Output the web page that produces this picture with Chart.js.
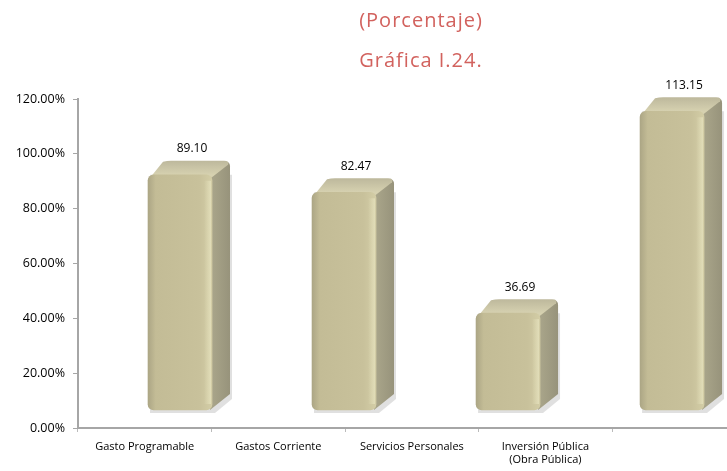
<!DOCTYPE html>
<html>
<head>
<meta charset="utf-8">
<script src="https://cdn.jsdelivr.net/npm/chart.js@4.4.1/dist/chart.umd.min.js"></script>
<style>
  html, body { margin: 0; padding: 0; background: #fff; }
  #wrap { width: 727px; height: 471px; position: relative; }
</style>
</head>
<body>
<div id="wrap"><canvas id="chart"></canvas></div>
<script>
// Data
const categories = ['Gasto Programable', 'Gastos Corriente', 'Servicios Personales', ['Inversión Pública', '(Obra Pública)']];
const values = [89.10, 82.47, 36.69, 113.15];
const yTicks = [0, 20, 40, 60, 80, 100, 120];
const titleLines = ['(Porcentaje)', 'Gráfica I.24.'];

// 3D depth of the bars
const DX = 18, DY = 14, BAR_W = 64;
const FONT = '"Open Sans", sans-serif';

// title drawn over the plot, shifted right like the original
const titlePlugin = {
  id: 'titleLines',
  afterDraw(chart) {
    const ctx = chart.ctx;
    ctx.save();
    ctx.fillStyle = '#d2625e';
    ctx.font = '20px ' + FONT;
    ctx.letterSpacing = '1px';
    ctx.textAlign = 'center';
    ctx.textBaseline = 'middle';
    ctx.fillText(titleLines[0], 421, 21);
    ctx.fillText(titleLines[1], 421, 61);
    ctx.restore();
  }
};

// side + top faces behind the front face, and value labels
const depthPlugin = {
  id: 'depth',
  beforeDatasetsDraw(chart) {
    const ctx = chart.ctx;
    const meta = chart.getDatasetMeta(0);
    ctx.save();
    meta.data.forEach(bar => {
      const p = bar.getProps(['x', 'y', 'base', 'width']);
      const l = p.x - p.width / 2, r = p.x + p.width / 2, t = p.y, b = p.base;
      // shadow
      ctx.fillStyle = 'rgba(0,0,0,0.12)';
      ctx.beginPath();
      ctx.moveTo(l + 2, b + 3);
      ctx.lineTo(r + 3, b + 3);
      ctx.lineTo(r + DX + 2, b - DY + 3);
      ctx.lineTo(r + DX + 2, t);
      ctx.lineTo(l + 2, t);
      ctx.closePath();
      ctx.fill();
      // side face
      const gs = ctx.createLinearGradient(r, 0, r + DX, 0);
      gs.addColorStop(0, '#a9a58a');
      gs.addColorStop(1, '#97937b');
      ctx.fillStyle = gs;
      ctx.beginPath();
      ctx.moveTo(r - 4, t + 4);
      ctx.lineTo(r + DX - 5, t - DY + 2);
      ctx.quadraticCurveTo(r + DX, t - DY, r + DX, t - DY + 6);
      ctx.lineTo(r + DX, b - DY - 2);
      ctx.lineTo(r - 2, b);
      ctx.closePath();
      ctx.fill();
      // top face
      const gt = ctx.createLinearGradient(0, t - DY, 0, t);
      gt.addColorStop(0, '#bdb89c');
      gt.addColorStop(1, '#d6d1b0');
      ctx.fillStyle = gt;
      ctx.beginPath();
      ctx.moveTo(l + 2, t + 3);
      ctx.lineTo(l + DX - 3, t - DY + 1);
      ctx.quadraticCurveTo(l + DX + 1, t - DY, l + DX + 5, t - DY);
      ctx.lineTo(r + DX - 6, t - DY);
      ctx.quadraticCurveTo(r + DX, t - DY, r + DX - 2, t - DY + 4);
      ctx.lineTo(r - 2, t + 4);
      ctx.closePath();
      ctx.fill();
    });
    ctx.restore();
  },
  afterDatasetsDraw(chart) {
    const ctx = chart.ctx;
    const meta = chart.getDatasetMeta(0);
    ctx.save();
    meta.data.forEach((bar, i) => {
      const p = bar.getProps(['x', 'y', 'base', 'width']);
      const r = p.x + p.width / 2;
      // highlight along the front-right edge
      const gh = ctx.createLinearGradient(r - 8, 0, r, 0);
      gh.addColorStop(0, 'rgba(232,228,192,0)');
      gh.addColorStop(1, 'rgba(232,228,192,0.8)');
      ctx.fillStyle = gh;
      ctx.fillRect(r - 8, p.y + 6, 7, p.base - p.y - 12);
      ctx.fillStyle = '#000';
      ctx.font = '12px ' + FONT;
      ctx.textAlign = 'center';
      ctx.textBaseline = 'bottom';
      ctx.fillText(values[i].toFixed(2), p.x + 12, p.y - DY - 6);
    });
    ctx.restore();
  }
};

const ctx = document.getElementById('chart').getContext('2d');

new Chart(ctx, {
  type: 'bar',
  data: {
    datasets: [{
      data: values.map((v, i) => ({ x: i, y: v })),
      xAxisID: 'xb',
      yAxisID: 'yb',
      barThickness: BAR_W,
      borderRadius: 6,
      borderSkipped: false,
      backgroundColor: (c) => {
        const sc = c.chart.scales.xb;
        if (!sc || !c.parsed) return '#c6bf98';
        const l = sc.getPixelForValue(c.parsed.x) - BAR_W / 2;
        if (!Number.isFinite(l)) return '#c6bf98';
        const g = c.chart.ctx.createLinearGradient(l, 0, l + BAR_W, 0);
        g.addColorStop(0, '#aca685');
        g.addColorStop(0.12, '#c3bc96');
        g.addColorStop(0.8, '#c8c19b');
        g.addColorStop(1, '#d3cda6');
        return g;
      }
    }]
  },
  options: {
    responsive: true,
    maintainAspectRatio: false,
    animation: false,
    events: [],
    layout: { padding: { top: 99, right: 0, left: 0, bottom: 0 } },
    plugins: { legend: { display: false }, tooltip: { enabled: false } },
    scales: {
      x: {
        type: 'linear',
        position: 'bottom',
        offset: false,
        min: -0.5,
        max: 4.36,
        afterBuildTicks: s => { s.ticks = categories.map((c, i) => ({ value: i })); },
        afterFit: s => { s.height = 43; },
        ticks: {
          autoSkip: false, maxRotation: 0, color: '#000', padding: 8,
          font: { family: FONT, size: 11 },
          callback: (v, i) => categories[i]
        },
        grid: { offset: true, drawOnChartArea: false, tickLength: 4, color: '#bbb' },
        border: { color: '#a6a6a6', width: 2 }
      },
      y: {
        min: 0,
        max: 120,
        afterBuildTicks: s => { s.ticks = yTicks.map(v => ({ value: v })); },
        afterFit: s => { s.width = 78; },
        ticks: {
          color: '#000', padding: 8,
          font: { family: FONT, size: 12.5 },
          callback: v => v.toFixed(2) + '%'
        },
        grid: { drawOnChartArea: false, tickLength: 5, color: '#a6a6a6' },
        border: { color: '#a6a6a6', width: 2 }
      },
      xb: { type: 'linear', display: false, offset: false, min: -0.622, max: 3.335 },
      yb: { type: 'linear', display: false, min: -6.82, max: 117.8 }
    }
  },
  plugins: [depthPlugin, titlePlugin]
});
</script>
</body>
</html>
